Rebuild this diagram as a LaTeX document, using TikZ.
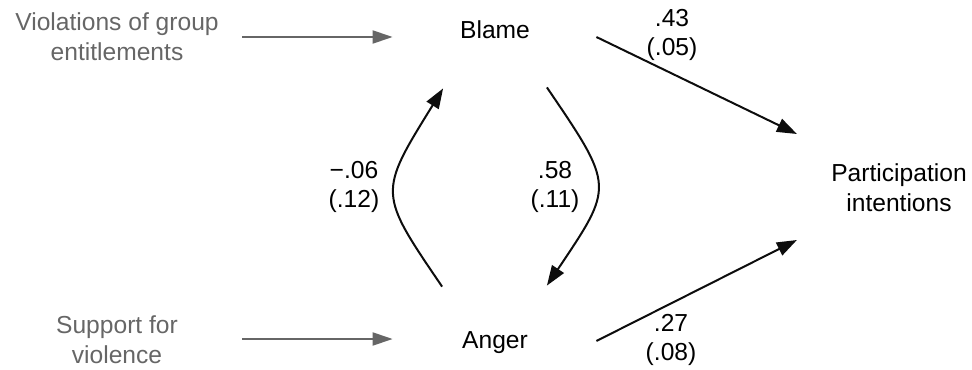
\documentclass[tikz,border=0pt]{standalone}
\usepackage{fontspec}
\setmainfont{Liberation Sans}
\usetikzlibrary{arrows.meta}
\definecolor{CauseGray}{HTML}{666666}
\definecolor{EffectBlack}{gray}{0.05}

\begin{document}
\begin{tikzpicture}[x=0.5pt,y=-0.5pt,
  every node/.style={font=\fontsize{12.3}{14.8}\selectfont, align=center, inner sep=0pt},
  cause/.style={text=CauseGray},
  emotion/.style={minimum width=51.5pt, minimum height=57pt},
  feed/.style={draw=CauseGray, line width=1pt, -{Triangle[length=10pt,width=6.5pt,fill=CauseGray]}},
  effect/.style={draw=EffectBlack, line width=1pt, -{Triangle[length=10pt,width=7pt]}}]
  \useasboundingbox (0,0) rectangle (972,369);
  % predictors
  \node[cause] (viol) at (117,37) {Violations of group\\entitlements};
  \node[cause] (supp) at (117,340) {Support for\\violence};
  % mediators and outcome
  \node[emotion] (blame) at (495,30) {Blame};
  \node[emotion] (anger) at (495,343) {Anger};
  \node (part) at (899,188) {Participation\\intentions};
  % coefficients
  \node (c43) at (672,35) {.43\\(.05)};
  \node (c27) at (671,340) {.27\\(.08)};
  \node (c06) at (354,187) {−.06\\(.12)};
  \node (c58) at (555,187) {.58\\(.11)};
  % paths
  \draw[feed] ([shift={(125,0)}]viol.center) -- ([shift={(-50.5,7)}]blame.west);
  \draw[feed] ([shift={(125,-1)}]supp.center) -- ([shift={(-50.5,-4)}]anger.west);
  \draw[effect] ([shift={(49.5,7)}]blame.east) -- ([shift={(-34,-54)}]part.west);
  \draw[effect] ([shift={(49.5,-2)}]anger.east) -- ([shift={(-34,52)}]part.west);
  \draw[effect] ([shift={(-1,1)}]anger.north west) .. controls +(-64,-94) and +(-65,105) .. ([shift={(0,1)}]blame.south west);
  \draw[effect] (blame.south east) .. controls +(68,100) and +(67,-100) .. (anger.north east);
\end{tikzpicture}
\end{document}
